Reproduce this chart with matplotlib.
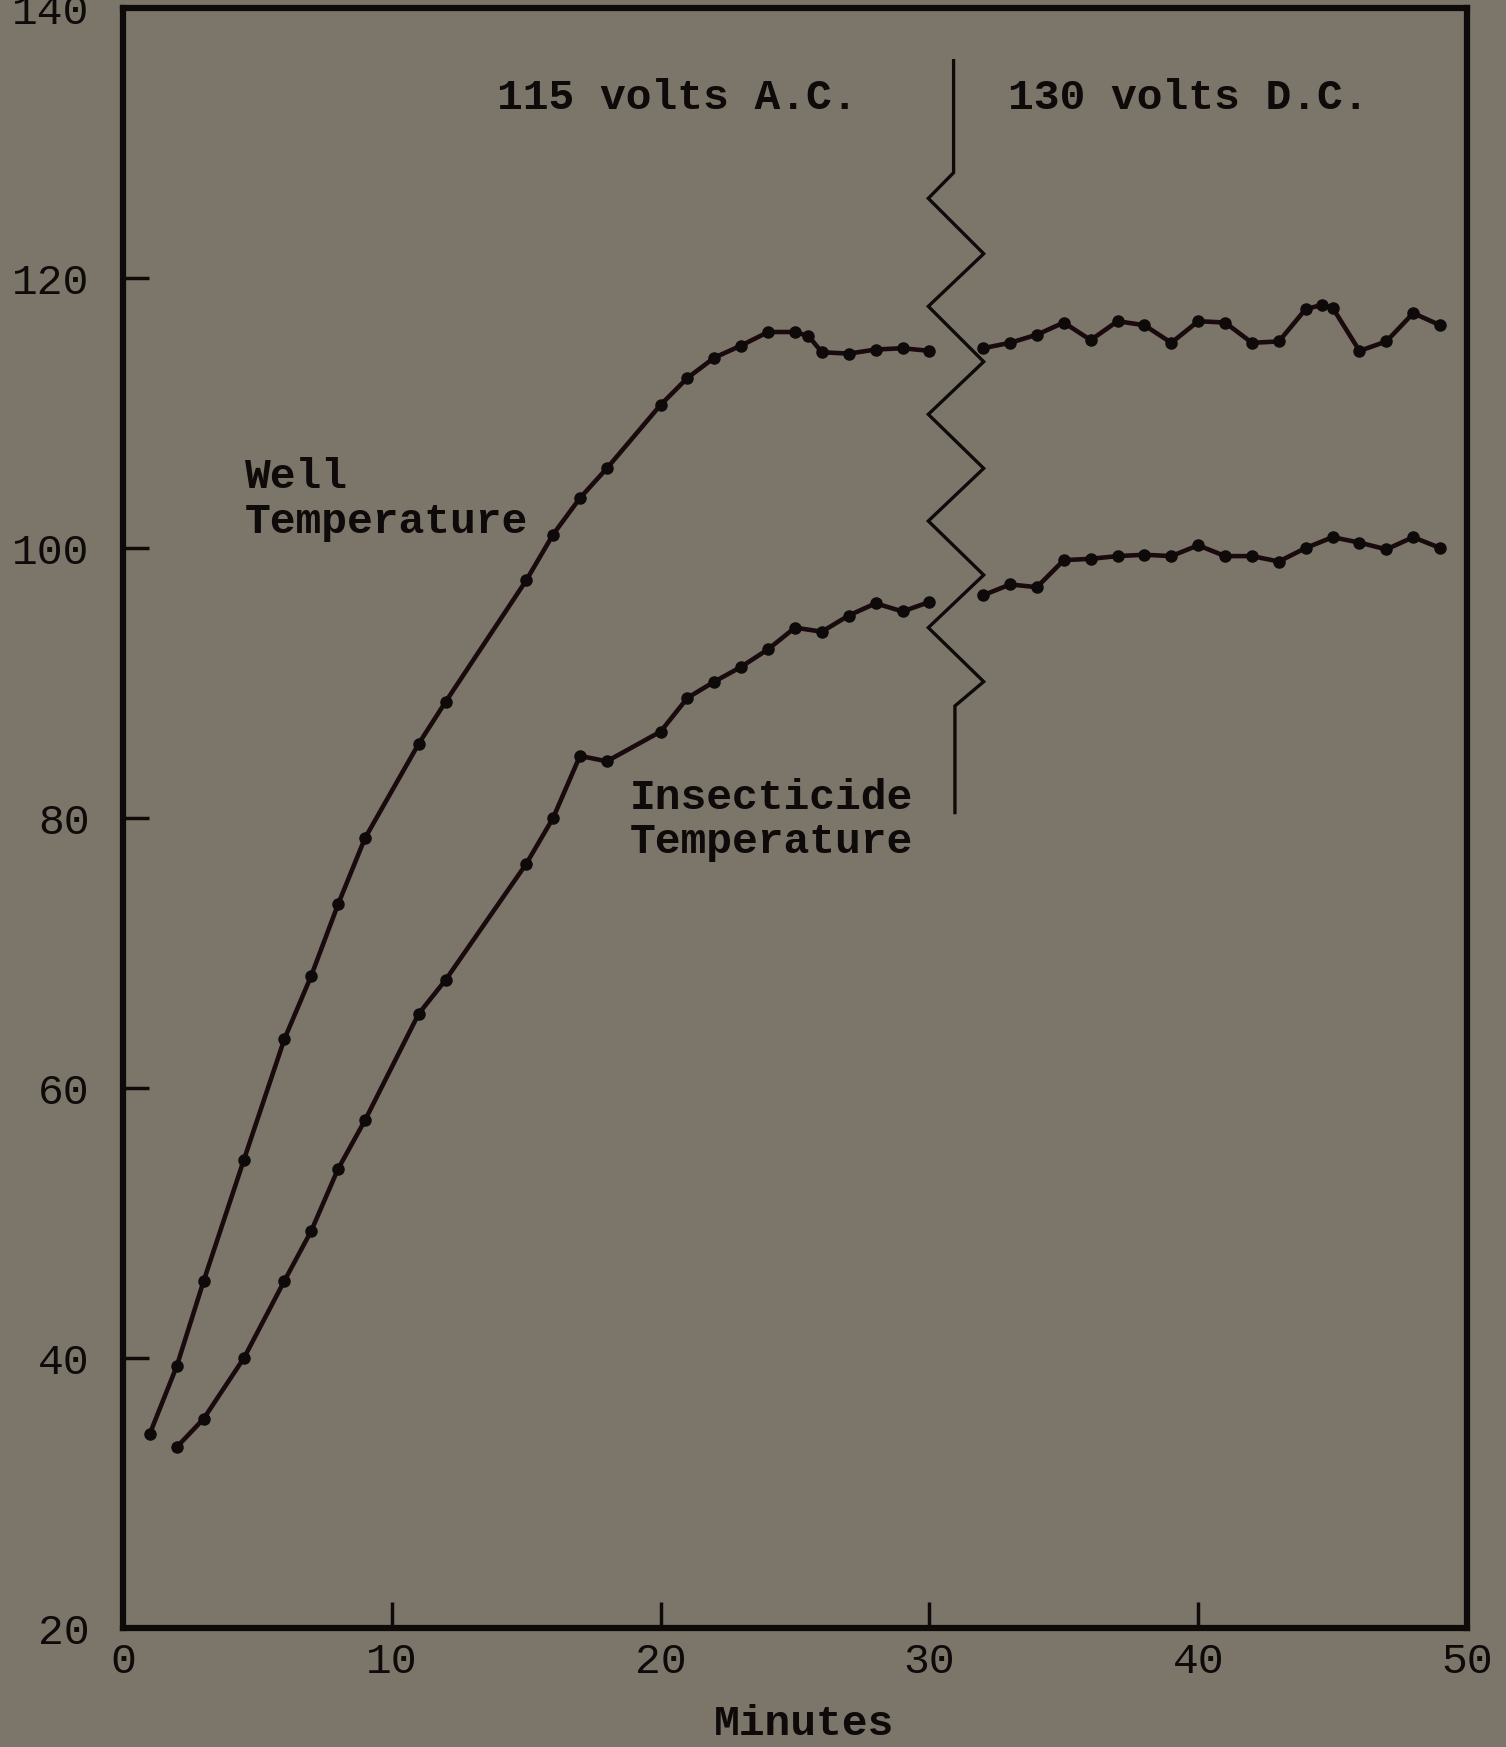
import matplotlib
matplotlib.use('Agg')
import matplotlib.pyplot as plt

# ---- data ----
well_ac_min = [1, 2, 3, 4.5, 6, 7, 8, 9, 11, 12, 15, 16, 17, 18, 20, 21, 22, 23, 24, 25, 25.5, 26, 27, 28, 29, 30]
well_ac_temp = [34.4, 39.4, 45.7, 54.7, 63.6, 68.3, 73.6, 78.5, 85.5, 88.6, 97.6, 101.0, 103.7, 105.9,
                110.6, 112.6, 114.1, 115.0, 116.0, 116.0, 115.7, 114.5, 114.4, 114.7, 114.8, 114.6]

well_dc_min = [32, 33, 34, 35, 36, 37, 38, 39, 40, 41, 42, 43, 44, 44.6, 45, 46, 47, 48, 49]
well_dc_temp = [114.8, 115.2, 115.8, 116.7, 115.4, 116.8, 116.5, 115.2, 116.8, 116.7, 115.2, 115.3,
                117.7, 118.0, 117.8, 114.6, 115.3, 117.4, 116.5]

ins_ac_min = [2, 3, 4.5, 6, 7, 8, 9, 11, 12, 15, 16, 17, 18, 20, 21, 22, 23, 24, 25, 26, 27, 28, 29, 30]
ins_ac_temp = [33.4, 35.5, 40.0, 45.7, 49.4, 54.0, 57.6, 65.5, 68.0, 76.6, 80.0, 84.6, 84.2, 86.4,
               88.9, 90.1, 91.2, 92.5, 94.1, 93.8, 95.0, 95.9, 95.3, 96.0]

ins_dc_min = [32, 33, 34, 35, 36, 37, 38, 39, 40, 41, 42, 43, 44, 45, 46, 47, 48, 49]
ins_dc_temp = [96.5, 97.3, 97.1, 99.1, 99.2, 99.4, 99.5, 99.4, 100.2, 99.4, 99.4, 99.0,
               100.0, 100.8, 100.4, 99.9, 100.8, 100.0]

# zig-zag break line separating the two supply conditions
break_x = [30.9, 30.9, 29.96, 32.02, 29.96, 32.02, 29.96, 32.02, 29.96, 32.02, 29.96, 32.02, 30.95, 30.95]
break_y = [136.1, 127.8, 125.9, 121.8, 117.9, 113.8, 109.9, 105.9, 102.0, 98.0, 94.1, 90.1, 88.3, 80.4]

x_ticks = [0, 10, 20, 30, 40, 50]
y_ticks = [20, 40, 60, 80, 100, 120, 140]

BG = '#7c766a'
INK = '#0e0a0a'
LINE = '#1a0a0d'
FONT = ['Liberation Mono', 'DejaVu Sans Mono']
FS = 31

fig = plt.figure(figsize=(15.06, 17.47), dpi=100, facecolor=BG)
ax = fig.add_axes([123 / 1506, 1 - 1628 / 1747, (1467 - 123) / 1506, (1628 - 8) / 1747])
ax.set_facecolor(BG)

for xs, ys in [(well_ac_min, well_ac_temp), (well_dc_min, well_dc_temp),
               (ins_ac_min, ins_ac_temp), (ins_dc_min, ins_dc_temp)]:
    ax.plot(xs, ys, color=LINE, lw=3.3, marker='o', ms=8, mfc=INK, mec=INK,
            solid_joinstyle='round', solid_capstyle='round', clip_on=False, zorder=3)

ax.plot(break_x, break_y, color=INK, lw=2.4, solid_joinstyle='miter', clip_on=False, zorder=2)

ax.set_xlim(0, 50)
ax.set_ylim(20, 140)
ax.set_xticks(x_ticks)
ax.set_yticks(y_ticks)
ax.set_xticklabels([str(v) for v in x_ticks], family=FONT, fontsize=FS, color=INK)
ax.set_yticklabels([str(v) for v in y_ticks], family=FONT, fontsize=FS, color=INK)
ax.tick_params(axis='both', direction='in', length=19, width=2.5, color=INK)
ax.tick_params(axis='x', pad=10)
ax.tick_params(axis='y', pad=24)

for s in ax.spines.values():
    s.set_linewidth(4.5)
    s.set_color(INK)

txt = dict(family=FONT, fontsize=FS, color=INK, fontweight='bold')
ax.text(20.62, 133.3, '115 volts A.C.', ha='center', va='center', **txt)
ax.text(39.62, 133.3, '130 volts D.C.', ha='center', va='center', **txt)
ax.text(4.54, 103.6, 'Well\nTemperature', ha='left', va='center', linespacing=1.15, **txt)
ax.text(18.85, 79.85, 'Insecticide\nTemperature', ha='left', va='center', linespacing=1.15, **txt)

fig.text(804 / 1506, 1 - 1724 / 1747, 'Minutes', ha='center', va='center', **txt)

fig.savefig('out.png', dpi=100, facecolor=BG)
